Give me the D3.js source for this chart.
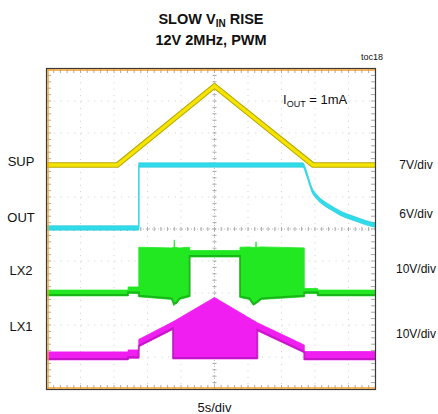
<!DOCTYPE html>
<html><head><meta charset="utf-8">
<script src="https://cdn.jsdelivr.net/npm/d3@7"></script>
<style>body{margin:0;background:#fff}svg{display:block}text{font-family:Arial,"Liberation Sans",sans-serif;fill:#111}</style>
</head><body><svg id="c" width="438" height="414"></svg>
<script>
// ---- data (time in s, 5 s/div; values in V relative to each channel's ground marker)
const channels = ["SUP", "OUT", "LX2", "LX1"];
const scaleLabels = ["7V/div", "6V/div", "10V/div", "10V/div"];
const voltsPerDiv = [7, 6, 10, 10];
const markerDiv = [7.0, 5.0, 3.0, 1.0];
const timeLabel = "5s/div";
const noteLabel = ["I", "OUT", " = 1mA"];

const supT = [0, 10.5, 25, 39.7, 50];
const supV = [0, 0, 17.3, 0, 0];

const outT = [0, 13.7, 13.7, 38.2, 38.66, 39.1, 39.55, 40.15, 40.75, 42.24, 43.73, 45.97, 48.96, 50];
const outV = [0.2, 0.2, 12.0, 12.0, 10.7, 9.0, 7.3, 6.2, 5.4, 4.1, 3.0, 1.9, 0.75, 0.6];

const lx2T  = [0, 12.1, 12.1, 13.7, 13.7, 18.6, 18.95, 19.0, 19.05, 19.3, 19.8, 21.3, 21.3, 28.8, 28.8, 30.2, 30.8, 31.15, 31.2, 31.25, 31.3, 32.0, 38.4, 38.4, 40.4, 40.4, 50];
const lx2Hi = [0.9, 0.9, 1.9, 1.9, 14.3, 14.1, 14.3, 16.6, 14.3, 14.2, 14.1, 14.3, 13.3, 13.3, 14.3, 14.4, 14.2, 14.3, 16.0, 14.3, 14.3, 14.4, 14.1, 1.4, 1.4, 0.9, 0.9];
const lx2Lo = [-0.9, -0.9, -0.15, -0.15, -1.2, -2.0, -3.8, -3.6, -3.5, -3.4, -2.0, -1.2, 11.25, 11.25, -1.4, -2.0, -3.8, -3.4, -3.3, -3.2, -3.2, -2.0, -1.2, -0.15, -0.15, -0.9, -0.9];

const lx1T  = [0, 12.1, 12.1, 13.7, 13.7, 18.8, 18.8, 25, 31.4, 31.4, 38.4, 38.4, 50];
const lx1Hi = [1.6, 1.6, 2.2, 2.2, 5.5, 11.0, 11.0, 18.6, 10.7, 10.7, 3.75, 1.7, 1.7];
const lx1Lo = [-0.9, -0.9, -0.4, -0.4, 3.2, 8.6, -0.6, -0.6, -0.6, 8.2, 1.3, -0.9, -0.9];

// ---- layout
const svg = d3.select("#c");
const L = 47, R = 375, T = 69, B = 389;
const x = d3.scaleLinear().domain([0, 50]).range([L, L + 335]);
const y = d3.scaleLinear().domain([0, 10]).range([B, T]);
const chY = (i, v) => y(markerDiv[i] + v / voltsPerDiv[i]);

svg.append("clipPath").attr("id", "clip").append("rect")
  .attr("x", L).attr("y", T).attr("width", R - L).attr("height", B - T);
const g = svg.append("g").attr("clip-path", "url(#clip)");

// grid
const divX = d3.range(0, 51, 5), divY = d3.range(0, 11);
g.selectAll(".gv").data(divX).join("line")
  .attr("x1", d => x(d)).attr("x2", d => x(d)).attr("y1", T).attr("y2", B)
  .attr("stroke", "#cfcfcf").attr("stroke-width", 1)
  .attr("stroke-dasharray", "1,5.4").attr("stroke-dashoffset", -0.5);
g.selectAll(".gh").data(divY).join("line")
  .attr("y1", d => y(d)).attr("y2", d => y(d)).attr("x1", L).attr("x2", R)
  .attr("stroke", "#cfcfcf").attr("stroke-width", 1)
  .attr("stroke-dasharray", "1,5.7").attr("stroke-dashoffset", -0.5);
const minorX = d3.range(0, 50.01, 1), minorY = d3.range(0, 10.01, 0.2);
g.append("line").attr("x1", x(25)).attr("x2", x(25)).attr("y1", T).attr("y2", B)
  .attr("stroke", "#bbb").attr("stroke-dasharray", "1,2");
g.append("line").attr("y1", y(5)).attr("y2", y(5)).attr("x1", L).attr("x2", R)
  .attr("stroke", "#bbb").attr("stroke-dasharray", "1,2");
g.selectAll(".tcx").data(minorX).join("line")
  .attr("x1", d => x(d)).attr("x2", d => x(d)).attr("y1", y(5) - 2).attr("y2", y(5) + 2)
  .attr("stroke", "#aaa");
g.selectAll(".tcy").data(minorY).join("line")
  .attr("y1", d => y(d)).attr("y2", d => y(d)).attr("x1", x(25) - 2).attr("x2", x(25) + 2)
  .attr("stroke", "#aaa");
g.selectAll(".tt").data(minorX).join("line")
  .attr("x1", d => x(d)).attr("x2", d => x(d)).attr("y1", T).attr("y2", T + 4).attr("stroke", "#aaa");
g.selectAll(".tb").data(minorX).join("line")
  .attr("x1", d => x(d)).attr("x2", d => x(d)).attr("y1", B - 4).attr("y2", B).attr("stroke", "#aaa");
g.selectAll(".tl").data(minorY).join("line")
  .attr("y1", d => y(d)).attr("y2", d => y(d)).attr("x1", L).attr("x2", L + 4).attr("stroke", "#aaa");
g.selectAll(".tr").data(minorY).join("line")
  .attr("y1", d => y(d)).attr("y2", d => y(d)).attr("x1", R - 4).attr("x2", R).attr("stroke", "#aaa");

// traces
const zip = (ts, vs) => ts.map((t, k) => [t, vs[k]]);
function band(i, ts, hi, lo, fill, edge) {
  const data = ts.map((t, k) => ({t, hi: hi[k], lo: lo[k]}));
  g.append("path").datum(data)
    .attr("d", d3.area().x(d => x(d.t)).y0(d => chY(i, d.lo)).y1(d => chY(i, d.hi)))
    .attr("fill", fill).attr("stroke", fill).attr("stroke-width", 0.8);
  g.append("path").datum(data)
    .attr("d", d3.line().x(d => x(d.t)).y(d => chY(i, d.lo) - 1))
    .attr("fill", "none").attr("stroke", edge).attr("stroke-width", 2).attr("opacity", 0.55);
}
band(3, lx1T, lx1Hi, lx1Lo, "#f01ef0", "#a010a8");
band(2, lx2T, lx2Hi, lx2Lo, "#22e822", "#108c10");

const outData = zip(outT, outV);
g.append("path").datum(outData)
  .attr("d", d3.area().x(d => x(d[0])).y0(d => chY(1, d[1]) + 2.2).y1(d => chY(1, d[1]) - 2.2).curve(d3.curveMonotoneX))
  .attr("fill", "#30dcea").attr("stroke", "#22c4d4").attr("stroke-width", 0.6);
g.append("path").datum(outData)
  .attr("d", d3.line().x(d => x(d[0])).y(d => chY(1, d[1])).curve(d3.curveMonotoneX))
  .attr("fill", "none").attr("stroke", "#30dcea").attr("stroke-width", 1.2);

const supLine = d3.line().x(d => x(d[0])).y(d => chY(0, d[1]));
g.append("path").datum(zip(supT, supV)).attr("d", supLine)
  .attr("fill", "none").attr("stroke", "#b8a800").attr("stroke-width", 5.5);
g.append("path").datum(zip(supT, supV)).attr("d", supLine)
  .attr("fill", "none").attr("stroke", "#f4e400").attr("stroke-width", 3.5);

// frame
svg.append("rect").attr("x", L - 0.5).attr("y", T - 0.5).attr("width", R - L + 1).attr("height", B - T + 1)
  .attr("fill", "none").attr("stroke", "#3a3a3a").attr("stroke-width", 1.2);
svg.append("path").attr("d", `M${R},${T + 1}H${L + 1}V${B - 1}H${R}`)
  .attr("fill", "none").attr("stroke", "#f0a030").attr("stroke-width", 1.4);

// labels
const chLabelY = [161, 217, 270, 326];
svg.selectAll(".cl").data(channels).join("text")
  .attr("x", 21).attr("y", (d, i) => chLabelY[i] + 5).attr("text-anchor", "middle")
  .attr("font-size", 13).text(d => d);
const scLabelY = [164, 213, 268, 333];
svg.selectAll(".sl").data(scaleLabels).join("text")
  .attr("x", 416).attr("y", (d, i) => scLabelY[i] + 4.5).attr("text-anchor", "middle")
  .attr("font-size", 12).text(d => d);
svg.append("text").attr("x", x(25)).attr("y", 412).attr("text-anchor", "middle")
  .attr("font-size", 13).text(timeLabel);
svg.append("text").attr("x", 383).attr("y", 60).attr("text-anchor", "end")
  .attr("font-size", 9).text("toc18");
const note = svg.append("text").attr("x", 283).attr("y", 104).attr("font-size", 13);
note.append("tspan").text(noteLabel[0]);
note.append("tspan").attr("font-size", 9).attr("dy", 3).text(noteLabel[1]);
note.append("tspan").attr("dy", -3).text(noteLabel[2]);

const t1 = svg.append("text").attr("x", 211).attr("y", 24).attr("text-anchor", "middle")
  .attr("font-size", 14.5).attr("font-weight", "bold");
t1.append("tspan").text("SLOW V");
t1.append("tspan").attr("font-size", 10).attr("dy", 3).text("IN");
t1.append("tspan").attr("dy", -3).text(" RISE");
svg.append("text").attr("x", 211).attr("y", 45).attr("text-anchor", "middle")
  .attr("font-size", 14.5).attr("font-weight", "bold").text("12V 2MHz, PWM");
</script></body></html>
